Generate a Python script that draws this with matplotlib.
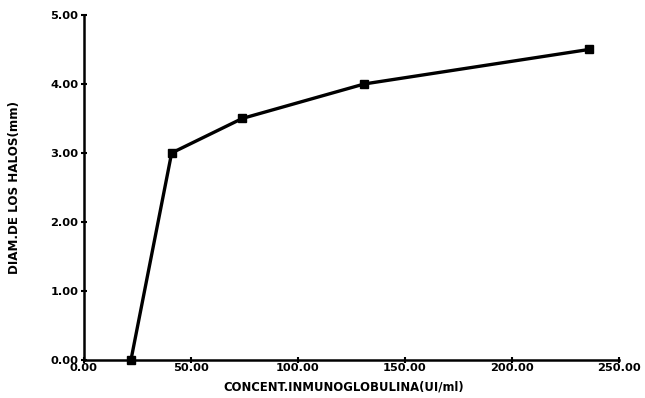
import matplotlib
matplotlib.use("Agg")
import matplotlib.pyplot as plt

# Halo diameter vs immunoglobulin concentration
concentracion = [22, 41, 74, 131, 236]
diametro = [0.0, 3.0, 3.5, 4.0, 4.5]
xticks = [0, 50, 100, 150, 200, 250]
yticks = [0, 1, 2, 3, 4, 5]

plt.rcParams['font.family'] = ['DejaVu Sans']
plt.rcParams['font.weight'] = 'bold'

fig = plt.figure(figsize=(6.45, 3.98), dpi=100)
ax = fig.add_axes([0.130, 0.0955, 0.830, 0.867])

ax.plot(concentracion, diametro, color='black', linewidth=2.4,
        marker='s', markersize=6, markerfacecolor='black',
        markeredgecolor='black', clip_on=False, zorder=3)

ax.set_xlim(0, 250)
ax.set_ylim(0, 5)
ax.set_xticks(xticks)
ax.set_yticks(yticks)
ax.set_xticklabels([f"{v:.2f}" for v in xticks], fontsize=8.2, fontweight='bold')
ax.set_yticklabels([f"{v:.2f}" for v in yticks], fontsize=8.2, fontweight='bold')
ax.tick_params(direction='inout', length=4, width=1.5, color='black')
ax.tick_params(axis='x', pad=0.5)
ax.tick_params(axis='y', pad=2)

for side in ['top', 'right']:
    ax.spines[side].set_visible(False)
for side in ['left', 'bottom']:
    ax.spines[side].set_linewidth(1.8)

ax.set_xlabel('CONCENT.INMUNOGLOBULINA(UI/ml)', fontsize=8.4, fontweight='bold')
ax.set_ylabel('DIAM.DE LOS HALOS(mm)', fontsize=8.6, fontweight='bold')
ax.xaxis.set_label_coords(0.486, -0.079)
ax.xaxis.label.set_va('center')
ax.yaxis.set_label_coords(-0.129, 0.5)
ax.yaxis.label.set_va('center')

fig.savefig('out.png', dpi=100)
